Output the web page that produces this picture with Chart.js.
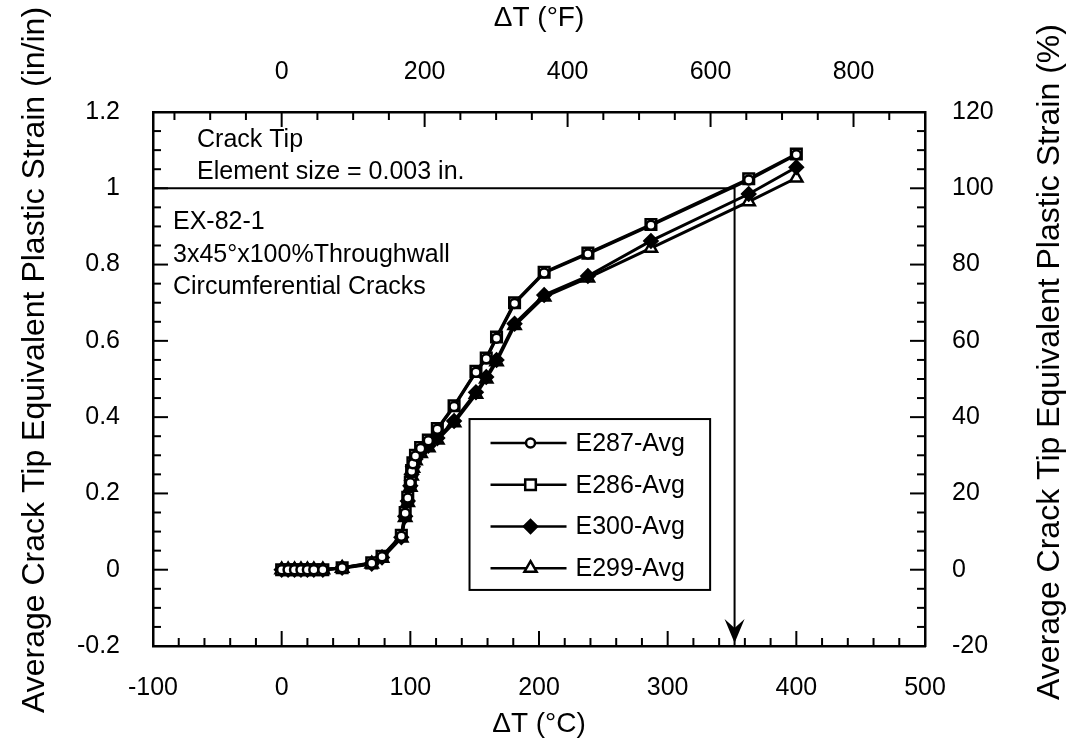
<!DOCTYPE html>
<html>
<head>
<meta charset="utf-8">
<script src="https://cdn.jsdelivr.net/npm/chart.js@4.4.0/dist/chart.umd.min.js"></script>
<style>
body { margin: 0; background: #fff; }
#wrap { width: 1070px; height: 744px; }
</style>
</head>
<body>
<div id="wrap"><canvas id="myChart" width="1070" height="744"></canvas></div>
<script>
// delta T in deg C, shared by all four series
const tempC = [0, 5, 10, 15, 20, 25, 32, 47, 70, 78, 93, 96, 98, 100, 101, 102, 104, 108, 114, 121, 134, 151, 159, 167, 181, 204, 238, 287, 363, 400];
const e287 = [0, 0, 0, 0, 0, 0, 0, 0.005, 0.017, 0.034, 0.088, 0.148, 0.188, 0.228, 0.258, 0.278, 0.298, 0.318, 0.338, 0.368, 0.428, 0.518, 0.553, 0.607, 0.698, 0.778, 0.828, 0.903, 1.022, 1.088];
const e286 = [0, 0, 0, 0, 0, 0, 0, 0.005, 0.018, 0.035, 0.09, 0.15, 0.19, 0.23, 0.26, 0.28, 0.30, 0.32, 0.34, 0.37, 0.43, 0.52, 0.555, 0.61, 0.70, 0.78, 0.83, 0.905, 1.025, 1.09];
const e300 = [0, 0, 0, 0, 0, 0, 0, 0.005, 0.016, 0.032, 0.085, 0.14, 0.18, 0.22, 0.25, 0.27, 0.29, 0.31, 0.325, 0.345, 0.39, 0.465, 0.505, 0.55, 0.645, 0.72, 0.77, 0.862, 0.985, 1.055];
const e299 = [0, 0, 0, 0, 0, 0, 0, 0.004, 0.015, 0.03, 0.083, 0.137, 0.176, 0.216, 0.246, 0.266, 0.286, 0.305, 0.32, 0.34, 0.385, 0.46, 0.5, 0.545, 0.64, 0.715, 0.765, 0.843, 0.965, 1.027];
const seriesNames = ['E287-Avg', 'E286-Avg', 'E300-Avg', 'E299-Avg'];
const guideC = [-100, 352, 352];
const guideStrain = [1, 1, -0.2];
const topTicksF = [0, 200, 400, 600, 800];
const noteTop = ['Crack Tip', 'Element size = 0.003 in.'];
const noteCase = ['EX-82-1', '3x45°x100%Throughwall', 'Circumferential Cracks'];
const leftTitle = 'Average Crack Tip Equivalent Plastic Strain (in/in)';
const rightTitle = 'Average Crack Tip Equivalent Plastic Strain (%)';

const FONT = "'Liberation Sans', Arial, Helvetica, sans-serif";
const tickFont = { family: FONT, size: 25 };

function pts(ys) {
	return tempC.map((t, i) => ({ x: t, y: ys[i] }));
}

function series(label, ys, style, radius, fill) {
	return {
		label: label,
		data: pts(ys),
		borderColor: '#000',
		borderWidth: 3,
		pointStyle: style,
		pointRadius: radius,
		pointBorderWidth: 2.5,
		pointBorderColor: '#000',
		pointBackgroundColor: fill,
		tension: 0
	};
}

function drawMarker(ctx, style, radius, fill, x, y) {
	ctx.save();
	ctx.fillStyle = fill;
	ctx.strokeStyle = '#000';
	ctx.lineWidth = 2.5;
	Chart.helpers.drawPoint(ctx, { pointStyle: style, radius: radius, rotation: 0, borderWidth: 2.5 }, x, y);
	ctx.restore();
}

// inward tick marks on all four sides
function inTicks(ctx, area, scale, step, major, side) {
	let start = Math.ceil(scale.min / step) * step;
	for (let v = start; v <= scale.max + 1e-9; v += step) {
		let r = Math.round(v / step) * step;
		let len = Math.abs(r / major - Math.round(r / major)) < 1e-6 ? 15 : 8;
		let p = scale.getPixelForValue(r);
		ctx.beginPath();
		if (side == 'left') { ctx.moveTo(area.left, p); ctx.lineTo(area.left + len, p); }
		if (side == 'right') { ctx.moveTo(area.right, p); ctx.lineTo(area.right - len, p); }
		if (side == 'bottom') { ctx.moveTo(p, area.bottom); ctx.lineTo(p, area.bottom - len); }
		if (side == 'top') { ctx.moveTo(p, area.top); ctx.lineTo(p, area.top + len); }
		ctx.stroke();
	}
}

function sideTitle(ctx, text, x, y) {
	ctx.save();
	ctx.translate(x, y);
	ctx.rotate(-Math.PI / 2);
	ctx.font = '32px ' + FONT;
	ctx.textAlign = 'center';
	ctx.textBaseline = 'middle';
	ctx.fillStyle = '#000';
	ctx.fillText(text, 0, 0);
	ctx.restore();
}

const extras = {
	id: 'extras',
	afterDraw(chart) {
		const ctx = chart.ctx;
		const a = chart.chartArea;
		const s = chart.scales;
		ctx.save();
		ctx.strokeStyle = '#000';
		ctx.lineWidth = 2;
		inTicks(ctx, a, s.y, 0.05, 0.2, 'left');
		inTicks(ctx, a, s.y2, 5, 20, 'right');
		inTicks(ctx, a, s.x, 20, 100, 'bottom');
		inTicks(ctx, a, s.x2, 50, 200, 'top');

		// arrow head at the end of the guide line
		const g = chart.getDatasetMeta(4).data;
		const tip = g[g.length - 1];
		ctx.fillStyle = '#000';
		ctx.beginPath();
		ctx.moveTo(tip.x, tip.y - 3);
		ctx.lineTo(tip.x - 10, tip.y - 27);
		ctx.lineTo(tip.x, tip.y - 18);
		ctx.lineTo(tip.x + 10, tip.y - 27);
		ctx.closePath();
		ctx.fill();

		sideTitle(ctx, leftTitle, 35, 360);
		sideTitle(ctx, rightTitle, 1050, 362);

		// notes
		ctx.font = '25px ' + FONT;
		ctx.textBaseline = 'middle';
		ctx.textAlign = 'left';
		ctx.fillText(noteTop[0], a.left + 44, 140);
		ctx.fillText(noteTop[1], a.left + 44, 172);
		ctx.fillText(noteCase[0], a.left + 20, 222);
		ctx.fillText(noteCase[1], a.left + 20, 255);
		ctx.fillText(noteCase[2], a.left + 20, 287);

		// legend box
		const lx = s.x.getPixelForValue(146), rx = s.x.getPixelForValue(333);
		const ty = s.y.getPixelForValue(0.395), by = s.y.getPixelForValue(-0.053);
		ctx.fillStyle = '#fff';
		ctx.fillRect(lx, ty, rx - lx, by - ty);
		ctx.lineWidth = 2;
		ctx.strokeRect(lx, ty, rx - lx, by - ty);
		const ds = chart.data.datasets;
		for (let i = 0; i < 4; i++) {
			let y = ty + 24 + i * 41.7;
			ctx.lineWidth = 2.5;
			ctx.beginPath();
			ctx.moveTo(lx + 21, y);
			ctx.lineTo(lx + 97, y);
			ctx.stroke();
			drawMarker(ctx, ds[i].pointStyle, ds[i].pointRadius, ds[i].pointBackgroundColor, lx + 61, y);
			ctx.fillStyle = '#000';
			ctx.fillText(seriesNames[i], lx + 106, y + 1);
		}
		ctx.restore();
	}
};

new Chart('myChart', {
	type: 'line',
	data: {
		datasets: [
			series(seriesNames[0], e287, 'circle', 4.5, '#fff'),
			series(seriesNames[1], e286, 'rect', 7.5, '#fff'),
			series(seriesNames[2], e300, 'rectRot', 6.5, '#000'),
			series(seriesNames[3], e299, 'triangle', 7, '#fff'),
			{
				label: 'guide',
				data: guideC.map((t, i) => ({ x: t, y: guideStrain[i] })),
				borderColor: '#000',
				borderWidth: 2,
				pointRadius: 0,
				tension: 0
			}
		]
	},
	options: {
		responsive: false,
		devicePixelRatio: 1,
		animation: false,
		layout: { padding: 0 },
		plugins: { legend: { display: false }, tooltip: { enabled: false } },
		scales: {
			x: {
				type: 'linear', position: 'bottom', min: -100, max: 500,
				ticks: { stepSize: 100, padding: 27, color: '#000', font: tickFont, maxRotation: 0 },
				grid: { display: false, drawTicks: false },
				border: { display: true, color: '#000', width: 2.5 },
				title: { display: true, text: 'ΔT (°C)', color: '#000', font: { family: FONT, size: 28 }, padding: { top: 0, bottom: 3 } },
				afterFit: function(s) { s.height = 98; }
			},
			x2: {
				type: 'linear', position: 'top', min: -180, max: 900,
				afterBuildTicks: function(s) { s.ticks = topTicksF.map(v => ({ value: v })); },
				ticks: { padding: 25, color: '#000', font: tickFont, maxRotation: 0 },
				grid: { display: false, drawTicks: false },
				border: { display: true, color: '#000', width: 2.5 },
				title: { display: true, text: 'ΔT (°F)', color: '#000', font: { family: FONT, size: 28 }, padding: { top: 1, bottom: 0 } },
				afterFit: function(s) { s.height = 112; }
			},
			y: {
				type: 'linear', position: 'left', min: -0.2, max: 1.2,
				ticks: { stepSize: 0.2, padding: 33, color: '#000', font: tickFont, callback: v => +v.toFixed(1) },
				grid: { display: false, drawTicks: false },
				border: { display: true, color: '#000', width: 2.5 },
				afterFit: function(s) { s.width = 153; }
			},
			y2: {
				type: 'linear', position: 'right', min: -20, max: 120,
				ticks: { stepSize: 20, padding: 27, color: '#000', font: tickFont },
				grid: { display: false, drawTicks: false },
				border: { display: true, color: '#000', width: 2.5 },
				afterFit: function(s) { s.width = 145; }
			}
		}
	},
	plugins: [extras]
});
</script>
</body>
</html>
